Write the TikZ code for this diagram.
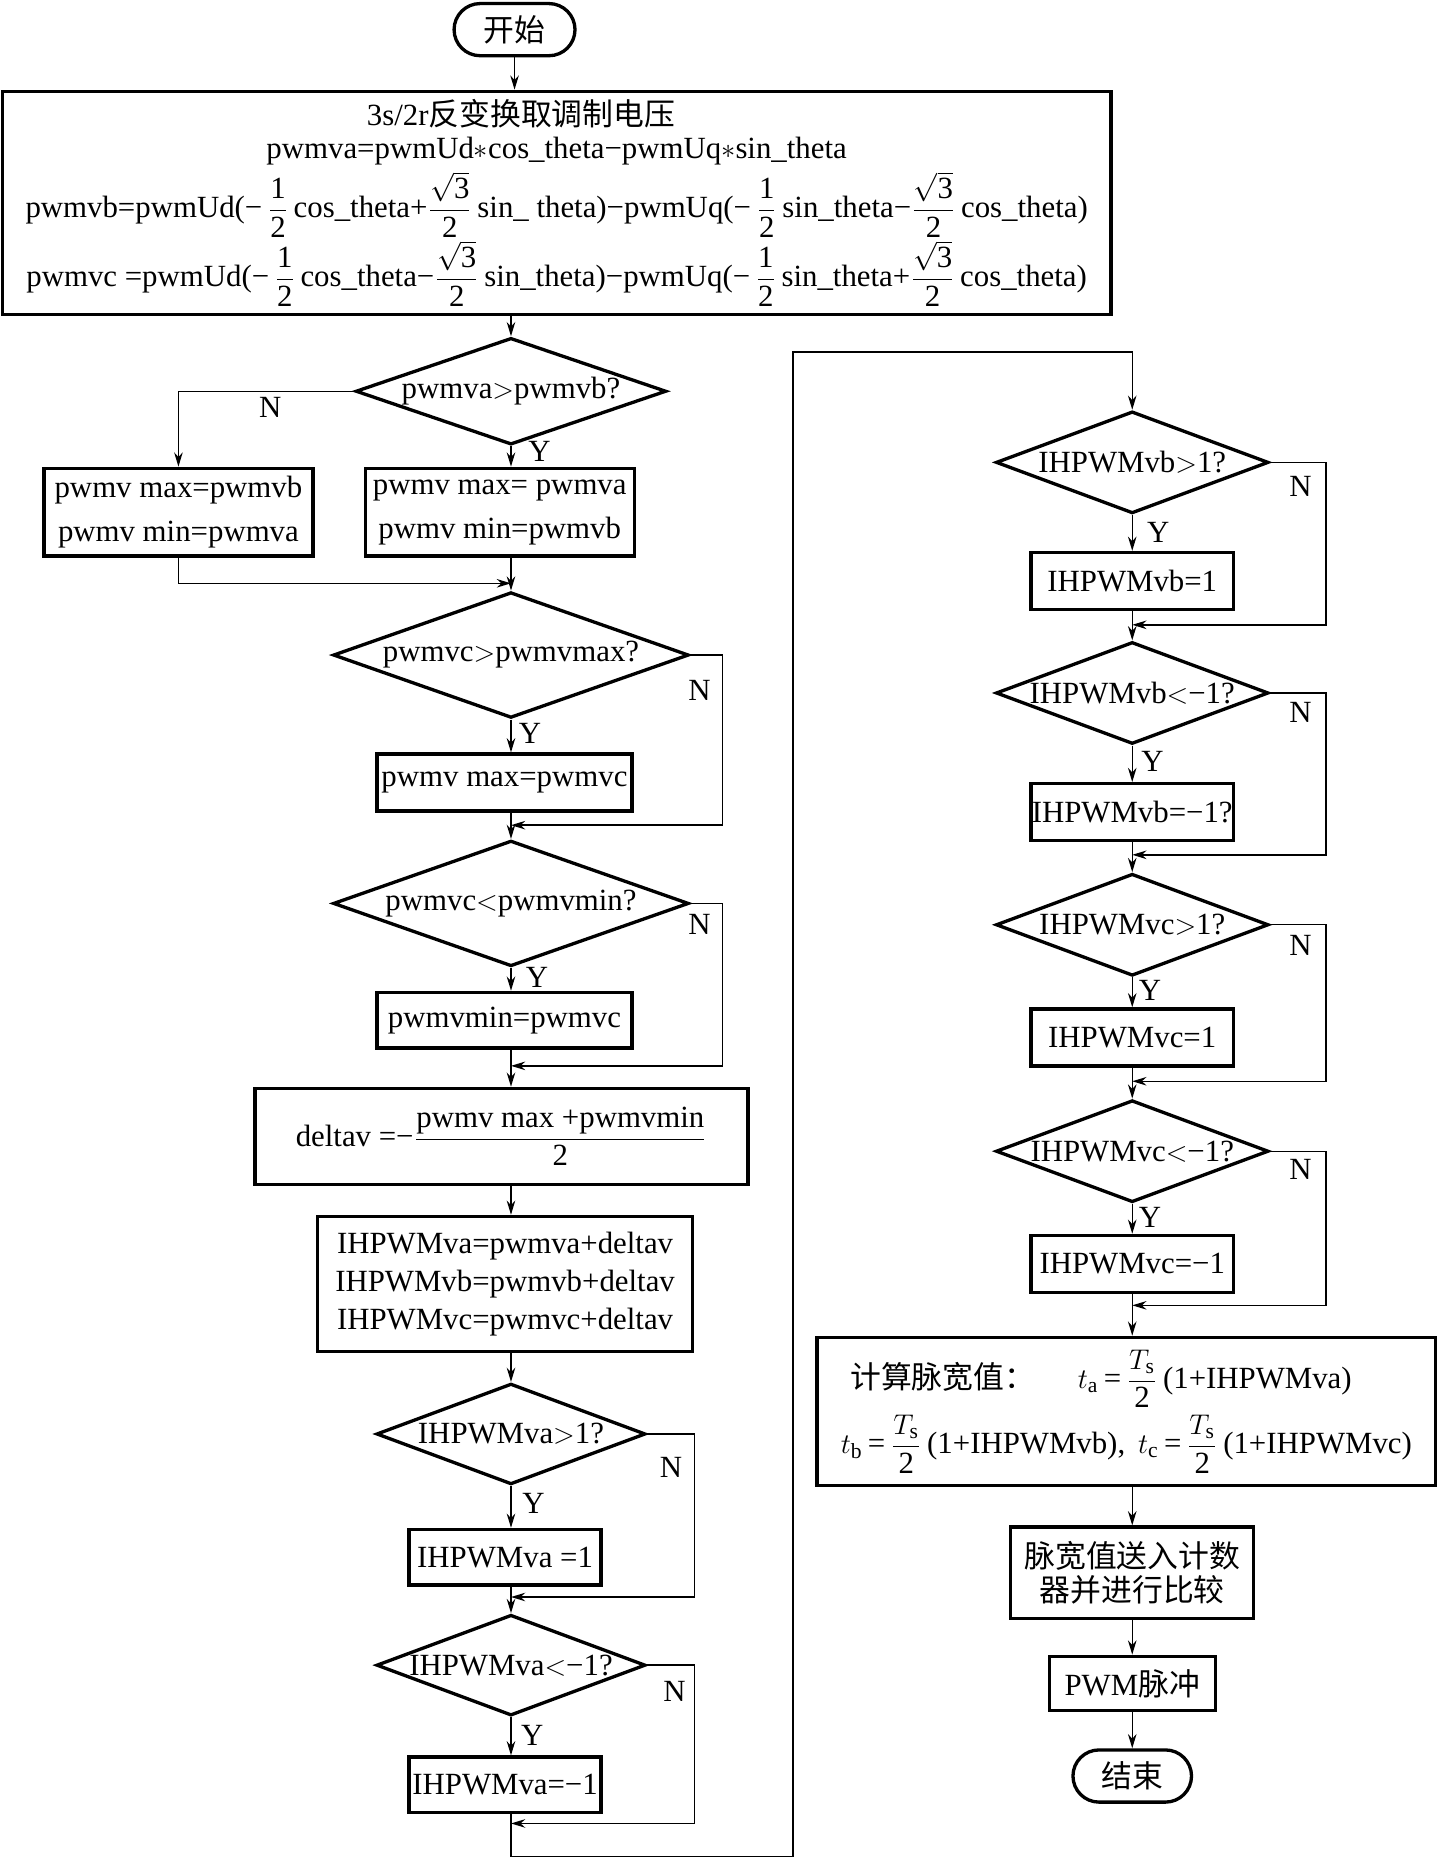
\documentclass[tikz,border=0pt]{standalone}
\usepackage{fontspec}
\setmainfont{Liberation Serif}
\newfontfamily\cjk{Noto Sans CJK SC}
\usetikzlibrary{arrows.meta,shapes.geometric}
\newcommand\hf[2]{$\displaystyle\frac{\mbox{#1}}{\mbox{#2}}$}
\newcommand\rt{$\sqrt{\mbox{3}}$}
\newcommand\dtext[1]{\makebox[0pt]{#1}}
\tikzset{
  box/.style={draw,line width=1.4pt,inner sep=0pt,align=center},
  dec/.style={draw,diamond,line width=1.4pt,inner sep=0pt},
  term/.style={draw,line width=1.4pt,rounded corners=11pt,inner sep=0pt},
  arr/.style={-{Stealth[length=6pt,width=3.6pt]},line width=0.6pt},
  lab/.style={inner sep=0pt}
}
\begin{document}
\begin{tikzpicture}[x=0.5pt,y=-0.5pt,font=\fontsize{13}{14}\selectfont]
\useasboundingbox (0,0) rectangle (1213,1568);
\node[term,minimum width=51pt,minimum height=22pt] (start) at (434,25) {{\cjk 开始}};
\node[box,minimum width=467.5pt,minimum height=94pt] (trans) at (469.5,171) {
  3s/2r{\cjk 反变换取调制电压}\hspace*{30pt}\\[0pt]
  pwmva=pwmUd$\ast$cos\_theta−pwmUq$\ast$sin\_theta\hspace*{30pt}\\[2pt]
  pwmvb=pwmUd(−\,\hf{1}{2}\,cos\_theta+\hf{\rt}{2}\,sin\_ theta)−pwmUq(−\,\hf{1}{2}\,sin\_theta−\hf{\rt}{2}\,cos\_theta)\\[0.5pt]
  pwmvc =pwmUd(−\,\hf{1}{2}\,cos\_theta−\hf{\rt}{2}\,sin\_theta)−pwmUq(−\,\hf{1}{2}\,sin\_theta+\hf{\rt}{2}\,cos\_theta)};
\node[dec,minimum width=131pt,minimum height=45pt] (d1) at (431,330) {\dtext{pwmva$>$pwmvb?}};
\node[box,minimum width=113.5pt,minimum height=37pt] (bL) at (150.5,432) {pwmv max=pwmvb\\[4.5pt]pwmv min=pwmva};
\node[box,minimum width=113.5pt,minimum height=37pt] (bR) at (421.5,432) {pwmv max= pwmva\\[4.5pt]pwmv min=pwmvb};
\node[dec,minimum width=150pt,minimum height=53pt] (d2) at (431,552.5) {\dtext{pwmvc$>$pwmvmax?}};
\node[box,minimum width=107.5pt,minimum height=24pt] (b2) at (425.5,660) {pwmv max=pwmvc};
\node[dec,minimum width=150pt,minimum height=53pt] (d3) at (431,762) {\dtext{pwmvc$<$pwmvmin?}};
\node[box,minimum width=107.5pt,minimum height=23.5pt] (b3) at (425.5,860.5) {pwmvmin=pwmvc};
\node[box,minimum width=208pt,minimum height=40.5pt] (bdel) at (423,958.5) {deltav =−\hf{pwmv max +pwmvmin}{2}};
\node[box,minimum width=158pt,minimum height=57pt] (bih) at (426,1083) {IHPWMva=pwmva+deltav\\[2pt]IHPWMvb=pwmvb+deltav\\[2pt]IHPWMvc=pwmvc+deltav};
\node[dec,minimum width=113.5pt,minimum height=42.5pt] (d4) at (431,1209.5) {\dtext{IHPWMva$>$1?}};
\node[box,minimum width=81pt,minimum height=23.5pt] (b4) at (426,1313.5) {IHPWMva =1};
\node[dec,minimum width=113.5pt,minimum height=42.5pt] (d5) at (431,1404.5) {\dtext{IHPWMva$<$−1?}};
\node[box,minimum width=81pt,minimum height=23.5pt] (b5) at (426,1505.5) {IHPWMva=−1};
\node[dec,minimum width=115pt,minimum height=43pt] (d6) at (955,390) {\dtext{IHPWMvb$>$1?}};
\node[box,minimum width=85.5pt,minimum height=24pt] (b6) at (955,490) {IHPWMvb=1};
\node[dec,minimum width=115pt,minimum height=43pt] (d7) at (955,584.5) {\dtext{IHPWMvb$<$−1?}};
\node[box,minimum width=85.5pt,minimum height=24pt] (b7) at (955,685) {IHPWMvb=−1?};
\node[dec,minimum width=115pt,minimum height=43pt] (d8) at (955,780) {\dtext{IHPWMvc$>$1?}};
\node[box,minimum width=85.5pt,minimum height=24pt] (b8) at (955,875) {IHPWMvc=1};
\node[dec,minimum width=115pt,minimum height=43pt] (d9) at (955,971) {\dtext{IHPWMvc$<$−1?}};
\node[box,minimum width=85.5pt,minimum height=24pt] (b9) at (955,1066) {IHPWMvc=−1};
\node[box,minimum width=261pt,minimum height=62.5pt,align=left] (calc) at (950,1190.5) {
  \hspace*{4pt}{\cjk 计算脉宽值：}\hspace{18pt}$t_\mathrm{a}$\,=\,\hf{$T_\mathrm{s}$}{2}\,(1+IHPWMva)\\[2pt]
  $t_\mathrm{b}$\,=\,\hf{$T_\mathrm{s}$}{2}\,(1+IHPWMvb), \,$t_\mathrm{c}$\,=\,\hf{$T_\mathrm{s}$}{2}\,(1+IHPWMvc)};
\node[box,minimum width=102.5pt,minimum height=38.5pt] (send) at (955,1326.5) {{\cjk 脉宽值送入计数}\\{\cjk 器并进行比较}};
\node[box,minimum width=70pt,minimum height=23pt] (pwm) at (955,1420) {PWM{\cjk 脉冲}};
\node[term,minimum width=50pt,minimum height=22pt] (stop) at (955,1498) {{\cjk 结束}};
\coordinate (j1) at (431,492);
\coordinate (j2) at (431,696);
\coordinate (j3) at (431,899);
\coordinate (j4) at (431,1347);
\coordinate (j5) at (431,1538);
\coordinate (j6) at (955,527);
\coordinate (j7) at (955,721);
\coordinate (j8) at (955,912);
\coordinate (j9) at (955,1101);
\coordinate (c1) at (431,1566);
\coordinate (c2) at (669,1566);
\coordinate (c3) at (669,297);
\draw[arr] (start.south) -- (start.south |- trans.north);
\draw[arr] (d1.north |- trans.south) -- (d1.north);
\draw[arr] (d1.west) -| (bL.north);
\draw[arr] (d1.south) -- (d1.south |- bR.north);
\draw[arr] (bL.south) |- (j1);
\draw[arr] (bR.south -| j1) -- (d2.north);
\draw[arr] (d2.south) -- (d2.south |- b2.north);
\draw[arr] (d2.east) -- ++(27,0) |- (j2);
\draw[arr] (b2.south -| j2) -- (d3.north);
\draw[arr] (d3.south) -- (d3.south |- b3.north);
\draw[arr] (d3.east) -- ++(27,0) |- (j3);
\draw[arr] (b3.south -| j3) -- (j3 |- bdel.north);
\draw[arr] (j3 |- bdel.south) -- (j3 |- bih.north);
\draw[arr] (j3 |- bih.south) -- (d4.north);
\draw[arr] (d4.south) -- (d4.south |- b4.north);
\draw[arr] (d4.east) -- ++(40,0) |- (j4);
\draw[arr] (b4.south -| j4) -- (d5.north);
\draw[arr] (d5.south) -- (d5.south |- b5.north);
\draw[arr] (d5.east) -- ++(40,0) |- (j5);
\draw[arr] (b5.south -| j5) -- (c1) -- (c2) -- (c3) -| (d6.north);
\draw[arr] (d6.south) -- (b6.north);
\draw[arr] (d6.east) -- ++(47,0) |- (j6);
\draw[arr] (b6.south) -- (d7.north);
\draw[arr] (d7.south) -- (b7.north);
\draw[arr] (d7.east) -- ++(47,0) |- (j7);
\draw[arr] (b7.south) -- (d8.north);
\draw[arr] (d8.south) -- (b8.north);
\draw[arr] (d8.east) -- ++(47,0) |- (j8);
\draw[arr] (b8.south) -- (d9.north);
\draw[arr] (d9.south) -- (b9.north);
\draw[arr] (d9.east) -- ++(47,0) |- (j9);
\draw[arr] (b9.south) -- (b9.south |- calc.north);
\draw[arr] (send.north |- calc.south) -- (send.north);
\draw[arr] (send) -- (pwm);
\draw[arr] (pwm) -- (stop);
\node[lab] (n1) at (228,344) {N};
\node[lab] (y1) at (455,381) {Y};
\node[lab] (n2) at (590,582) {N};
\node[lab] (y2) at (447,619) {Y};
\node[lab] (n3) at (590,780) {N};
\node[lab] (y3) at (453,824) {Y};
\node[lab] (n4) at (566,1238) {N};
\node[lab] (y4) at (450,1268) {Y};
\node[lab] (n5) at (569,1427) {N};
\node[lab] (y5) at (449,1464) {Y};
\node[lab] (n6) at (1097,410) {N};
\node[lab] (y6) at (977,449) {Y};
\node[lab] (n7) at (1097,601) {N};
\node[lab] (y7) at (972,642) {Y};
\node[lab] (n8) at (1097,797) {N};
\node[lab] (y8) at (970,835) {Y};
\node[lab] (n9) at (1097,986) {N};
\node[lab] (y9) at (970,1027) {Y};
\end{tikzpicture}
\end{document}
